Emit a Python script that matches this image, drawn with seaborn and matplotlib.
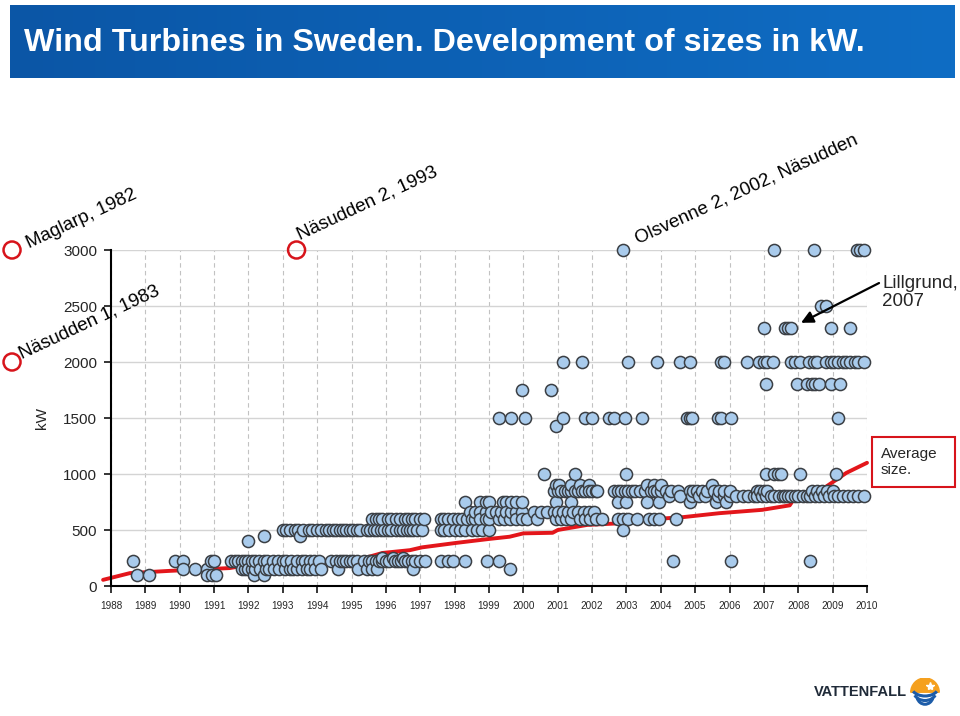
import numpy as np
import pandas as pd
import matplotlib
matplotlib.use('Agg')
import matplotlib.pyplot as plt
import seaborn as sns
from matplotlib.colors import LinearSegmentedColormap
from matplotlib.patches import Rectangle, Wedge, Arc

# --- Data: installation year of turbines, grouped by size (kW) ---
yr_100 = [1988.75, 1989.1, 1990.8, 1990.95, 1991.05, 1992.15, 1992.45]
yr_150 = [1990.1, 1990.45, 1990.8, 1991.8, 1991.9, 1992.0, 1992.1, 1992.2, 1992.35, 1992.5,
          1992.6, 1992.75, 1992.9, 1993.05, 1993.2, 1993.3, 1993.4, 1993.55, 1993.7, 1993.8,
          1993.95, 1994.1, 1994.6, 1995.2, 1995.45, 1995.6, 1995.75, 1996.8, 1999.6]
yr_225 = [1988.65, 1989.85, 1990.1, 1990.9, 1991.0, 1991.5, 1991.6, 1991.7, 1991.8, 1991.9,
          1992.0, 1992.1, 1992.2, 1992.3, 1992.45, 1992.55, 1992.7, 1992.85, 1993.0, 1993.1,
          1993.25, 1993.4, 1993.55, 1993.65, 1993.8, 1993.9, 1994.05, 1994.4, 1994.55, 1994.65,
          1994.75, 1994.85, 1994.95, 1995.05, 1995.15, 1995.35, 1995.5, 1995.6, 1995.7, 1995.8,
          1995.9, 1996.0, 1996.1, 1996.25, 1996.35, 1996.45, 1996.55, 1996.65, 1996.75, 1996.85,
          1997.0, 1997.15, 1997.6, 1997.8, 1997.95, 1998.3, 1998.95, 1999.3, 2004.35, 2006.05,
          2008.35]
yr_250 = [1995.9, 1996.2, 1996.5]
yr_400 = [1992.0]
yr_450 = [1992.45, 1993.5]
yr_500 = [1993.0, 1993.1, 1993.2, 1993.35, 1993.45, 1993.6, 1993.75, 1993.85, 1994.0, 1994.1,
          1994.25, 1994.35, 1994.45, 1994.55, 1994.65, 1994.75, 1994.85, 1994.95, 1995.05, 1995.15,
          1995.25, 1995.45, 1995.55, 1995.65, 1995.75, 1995.85, 1995.95, 1996.05, 1996.15, 1996.3,
          1996.4, 1996.5, 1996.6, 1996.7, 1996.8, 1996.9, 1997.05, 1997.6, 1997.7, 1997.85,
          1998.0, 1998.15, 1998.3, 1998.5, 1998.65, 1998.8, 1999.0, 2002.9]
yr_600 = [1995.6, 1995.7, 1995.8, 1995.9, 1996.05, 1996.15, 1996.3, 1996.4, 1996.55, 1996.65,
          1996.75, 1996.85, 1997.0, 1997.1, 1997.6, 1997.7, 1997.8, 1997.95, 1998.1, 1998.2,
          1998.35, 1998.5, 1998.6, 1998.75, 1998.9, 1999.0, 1999.3, 1999.45, 1999.6, 1999.8,
          1999.95, 2000.1, 2000.4, 2000.95, 2001.1, 2001.25, 2001.4, 2001.65, 2001.8, 2001.95,
          2002.1, 2002.3, 2002.75, 2002.9, 2003.05, 2003.3, 2003.65, 2003.8, 2003.95, 2004.45]
yr_660 = [1998.45, 1998.6, 1998.75, 1998.9, 1999.05, 1999.2, 1999.35, 1999.5, 1999.65, 1999.8,
          1999.95, 2000.3, 2000.5, 2000.7, 2000.9, 2001.0, 2001.15, 2001.3, 2001.45, 2001.6,
          2001.75, 2001.9, 2002.05]
yr_750 = [1998.3, 1998.75, 1998.9, 1999.0, 1999.4, 1999.5, 1999.65, 1999.8, 1999.95, 2000.95,
          2001.4, 2002.75, 2003.0, 2003.6, 2003.95, 2004.85, 2005.6, 2005.9]
yr_800 = [2004.25, 2004.55, 2004.9, 2005.1, 2005.3, 2005.65, 2005.85, 2006.0, 2006.2, 2006.4,
          2006.55, 2006.7, 2006.8, 2006.95, 2007.05, 2007.2, 2007.3, 2007.45, 2007.55, 2007.6,
          2007.7, 2007.8, 2007.9, 2008.0, 2008.15, 2008.25, 2008.35, 2008.5, 2008.6, 2008.75,
          2008.9, 2009.05, 2009.15, 2009.3, 2009.45, 2009.6, 2009.75, 2009.9]
yr_850 = [2000.9, 2001.0, 2001.1, 2001.2, 2001.3, 2001.4, 2001.5, 2001.6, 2001.7, 2001.8,
          2001.9, 2002.0, 2002.1, 2002.15, 2002.65, 2002.75, 2002.85, 2002.95, 2003.05, 2003.15,
          2003.25, 2003.4, 2003.55, 2003.7, 2003.8, 2003.9, 2004.0, 2004.15, 2004.3, 2004.5,
          2004.85, 2004.95, 2005.05, 2005.2, 2005.35, 2005.55, 2005.7, 2005.85, 2006.0, 2006.8,
          2006.9, 2007.0, 2007.1, 2008.4, 2008.55, 2008.7, 2008.85, 2009.0]
yr_900 = [2000.95, 2001.05, 2001.4, 2001.65, 2001.9, 2003.6, 2003.8, 2004.0, 2005.5]
yr_1000 = [2000.6, 2001.5, 2003.0, 2007.05, 2007.3, 2007.4, 2007.5, 2008.05, 2009.1]
yr_1425 = [2000.95]
yr_1500 = [1999.3, 1999.65, 2000.05, 2001.15, 2001.8, 2002.0, 2002.5, 2002.65, 2002.95, 2003.45,
           2004.75, 2004.85, 2004.9, 2005.65, 2005.75, 2006.05, 2009.15]
yr_1750 = [1999.95, 2000.8]
yr_1800 = [2007.05, 2007.95, 2008.25, 2008.4, 2008.5, 2008.6, 2008.95, 2009.2]
yr_2000 = [2001.15, 2001.7, 2003.05, 2003.9, 2004.55, 2004.85, 2005.75, 2005.85, 2006.5, 2006.85,
           2007.0, 2007.1, 2007.25, 2007.8, 2007.9, 2008.05, 2008.3, 2008.45, 2008.55, 2008.8,
           2008.95, 2009.05, 2009.15, 2009.3, 2009.4, 2009.5, 2009.65, 2009.75, 2009.9]
yr_2300 = [2007.0, 2007.6, 2007.7, 2007.8, 2008.95, 2009.5]
yr_2500 = [2008.65, 2008.8]
yr_3000 = [2002.9, 2007.3, 2008.45, 2009.7, 2009.8, 2009.9]

# Average size (kW) over time
avg_year = [1987.77, 1988.55, 1989.7, 1991.45, 1991.65, 1995.15, 1995.9, 1996.7, 1997.05, 1998.05,
            1999.0, 1999.6, 2000.0, 2000.85, 2001.0, 2001.85, 2002.8, 2003.45, 2004.65, 2005.7,
            2006.95, 2007.75, 2007.85, 2008.8, 2009.4, 2010.0]
avg_kw = [55, 115, 135, 160, 170, 230, 295, 320, 345, 385,
          420, 440, 470, 475, 500, 545, 560, 590, 615, 650,
          680, 720, 765, 885, 1010, 1100]

# Early prototypes, shown as red rings (first two lie before the axis start)
proto_names = ['Maglarp, 1982', 'Näsudden 1, 1983', 'Näsudden 2, 1993']
proto_year = [1985.12, 1985.12, 1993.4]
proto_kw = [3000, 2000, 3000]

groups = {100: yr_100, 150: yr_150, 225: yr_225, 250: yr_250, 400: yr_400, 450: yr_450,
          500: yr_500, 600: yr_600, 660: yr_660, 750: yr_750, 800: yr_800, 850: yr_850,
          900: yr_900, 1000: yr_1000, 1425: yr_1425, 1500: yr_1500, 1750: yr_1750,
          1800: yr_1800, 2000: yr_2000, 2300: yr_2300, 2500: yr_2500, 3000: yr_3000}
df = pd.DataFrame([(y, kw) for kw, ys in groups.items() for y in ys], columns=['year', 'kw'])
df = df.sort_values('year')

# --- Style ---
sns.set_style('white')
plt.rcParams['font.family'] = ['Liberation Sans', 'DejaVu Sans']

W, H = 960, 716
fig = plt.figure(figsize=(W / 100, H / 100), dpi=100)


def fx(px):
    return px / W


def fy(py):
    return 1 - py / H


# --- Title banner ---
bax = fig.add_axes([fx(10), fy(78), (955 - 10) / W, (78 - 5) / H])
grad = np.linspace(0, 1, 256).reshape(1, -1)
cmap = LinearSegmentedColormap.from_list('banner', ['#0b56a6', '#0f6dc4'])
bax.imshow(grad, aspect='auto', cmap=cmap, extent=[0, 1, 0, 1])
bax.axis('off')
title = fig.text(fx(24), fy(43), 'Wind Turbines in Sweden. Development of sizes in kW.',
                 color='white', fontsize=22, fontweight='bold', va='center', ha='left')
# fit title width to the banner text width seen in the slide
fig.canvas.draw()
tw = title.get_window_extent().width
title.set_fontsize(22 * 840 / tw)

# --- Main axes ---
ax = fig.add_axes([fx(111), 130 / H, (867 - 111) / W, 336 / H])

sns.lineplot(x=avg_year, y=avg_kw, ax=ax, color='#e3161b', lw=2.8, clip_on=False, zorder=2)
sns.scatterplot(data=df, x='year', y='kw', ax=ax, s=76, color='#a9cbec', edgecolor='#3b3f44',
                linewidth=1.1, clip_on=False, zorder=3)
ax.scatter(proto_year, proto_kw, s=150, facecolor='none', edgecolor='#d7141b', linewidth=1.8,
           clip_on=False, zorder=4)

ax.set_xlim(1988, 2010)
ax.set_ylim(0, 3000)
ax.set_xticks(range(1988, 2011))
ax.set_yticks(range(0, 3001, 500))
ax.tick_params(axis='x', labelsize=7.2, bottom=True, direction='out', length=5, width=1.3, pad=6)
ax.tick_params(axis='y', labelsize=11, left=True, direction='out', length=5, width=1.3, pad=5)
ax.set_xlabel('')
ax.set_ylabel('kW', fontsize=11)
ax.yaxis.set_label_coords((49 - 111) / 756, 0.5)

ax.set_axisbelow(True)
ax.yaxis.grid(True, color='#d4d4d4', lw=1.0, ls='-')
ax.xaxis.grid(True, color='#c2c2c2', lw=0.8, ls=(0, (4, 3)))
for s in ['top', 'right']:
    ax.spines[s].set_visible(False)
for s in ['left', 'bottom']:
    ax.spines[s].set_color('black')
    ax.spines[s].set_linewidth(1.5)

# --- Annotations ---
ann_kw = dict(fontsize=13.5, rotation=25, rotation_mode='anchor', ha='left', va='baseline',
              color='black')
fig.text(fx(29), fy(248), proto_names[0], **ann_kw)
fig.text(fx(22), fy(359), proto_names[1], **ann_kw)
fig.text(fx(300), fy(240), proto_names[2], **ann_kw)
fig.text(fx(638), fy(244), 'Olsvenne 2, 2002, Näsudden', rotation=24.5,
         **{k: v for k, v in ann_kw.items() if k != 'rotation'})

fig.text(fx(882), fy(306), 'Lillgrund,\n2007', fontsize=13.5, ha='left', va='baseline',
         linespacing=1.05)
ax.annotate('', xy=(2008.08, 2350), xytext=(2010.35, 2705), annotation_clip=False,
            arrowprops=dict(arrowstyle='-|>', color='black', lw=1.6, mutation_scale=18,
                            shrinkA=0, shrinkB=0))

fig.patches.append(Rectangle((fx(872), fy(487)), (955 - 872) / W, 50 / H, transform=fig.transFigure,
                             fill=False, edgecolor='#d7141b', lw=1.5))
fig.text(fx(881), fy(462), 'Average\nsize.', fontsize=11, ha='left', va='center', linespacing=1.1)

# --- Vattenfall logo ---
fig.text(fx(907), fy(692), 'VATTENFALL', fontsize=10.5, fontweight='bold', color='#1f2a38',
         ha='right', va='center')
lax = fig.add_axes([fx(910), fy(708), 30 / W, 30 / H])
lax.set_xlim(-1, 1)
lax.set_ylim(-1, 1)
lax.set_aspect('equal')
lax.axis('off')
lax.add_patch(Wedge((0, 0.05), 0.95, 0, 180, color='#f5a01e'))
lax.plot([0.35], [0.5], marker='*', color='white', ms=6)
for r, yy in [(0.9, -0.1), (0.75, -0.4), (0.55, -0.65)]:
    lax.add_patch(Arc((0, yy + 0.5), 2 * r, 1.2, theta1=200, theta2=340, color='#1d5ca8', lw=2.2))

fig.savefig('out.png', dpi=100)
